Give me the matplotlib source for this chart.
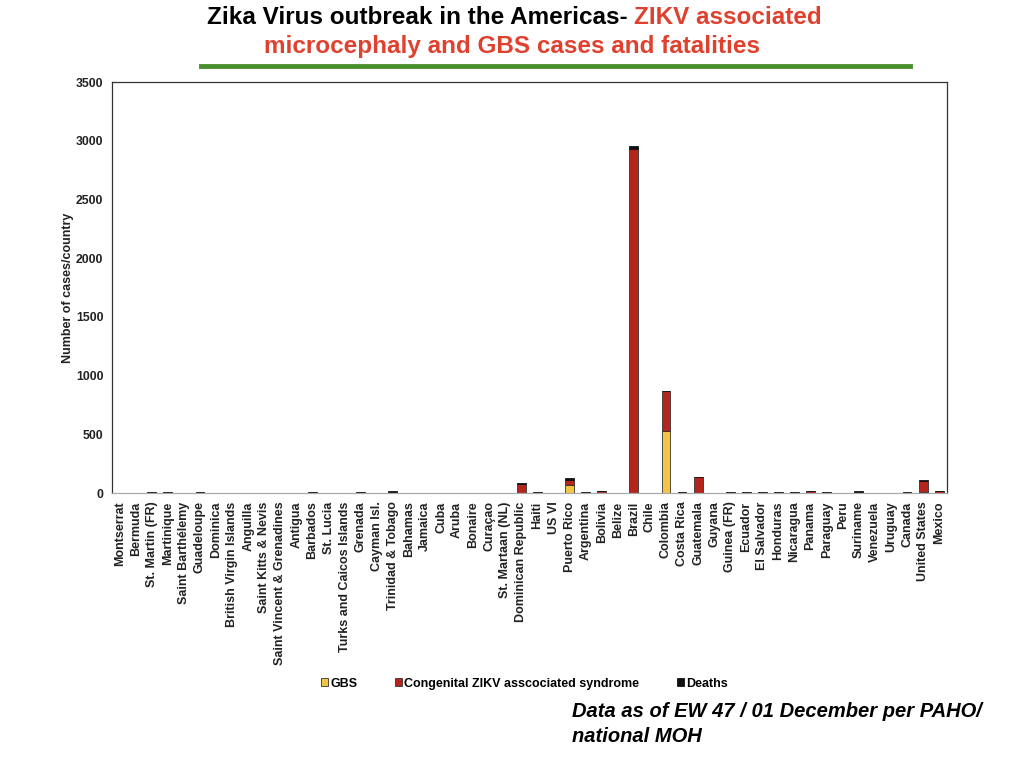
import matplotlib.pyplot as plt
import numpy as np

plt.rcParams['font.family'] = ['Liberation Sans', 'DejaVu Sans']

countries = ["Montserrat", "Bermuda", "St. Martin (FR)", "Martinique", "Saint Barthélemy",
             "Guadeloupe", "Dominica", "British Virgin Islands", "Anguilla", "Saint Kitts & Nevis",
             "Saint Vincent & Grenadines", "Antigua", "Barbados", "St. Lucia",
             "Turks and Caicos Islands", "Grenada", "Cayman Isl.", "Trinidad & Tobago", "Bahamas",
             "Jamaica", "Cuba", "Aruba", "Bonaire", "Curaçao", "St. Martaan (NL)",
             "Dominican Republic", "Haiti", "US VI", "Puerto Rico", "Argentina", "Bolivia",
             "Belize", "Brazil", "Chile", "Colombia", "Costa Rica", "Guatemala", "Guyana",
             "Guinea (FR)", "Ecuador", "El Salvador", "Honduras", "Nicaragua", "Panama",
             "Paraguay", "Peru", "Suriname", "Venezuela", "Uruguay", "Canada", "United States",
             "Mexico"]

gbs = [0, 0, 0, 0, 0, 0, 0, 0, 0, 0, 0, 0, 0, 0, 0, 0, 0, 0, 0, 0, 0, 0, 0, 0, 0,
       0, 0, 0, 68, 0, 0, 0, 0, 0, 530, 0, 0, 0, 0, 0, 0, 0, 0, 0, 0, 0, 0, 0, 0, 0, 6, 0]
congenital = [0, 0, 8, 8, 0, 8, 0, 0, 0, 0, 0, 0, 8, 0, 0, 8, 0, 12, 0, 0, 0, 0, 0, 0, 0,
              80, 8, 0, 45, 8, 14, 0, 2935, 0, 340, 8, 138, 0, 8, 8, 8, 8, 8, 14, 8, 0, 8, 0, 0, 8,
              95, 14]
deaths = [0, 0, 0, 0, 0, 0, 0, 0, 0, 0, 0, 0, 0, 0, 0, 0, 0, 2, 0, 0, 0, 0, 0, 0, 0,
          2, 0, 0, 12, 0, 2, 0, 22, 0, 3, 0, 2, 0, 0, 0, 0, 0, 0, 2, 0, 0, 6, 0, 0, 0, 10, 2]

x = np.arange(len(countries))
gbs = np.array(gbs)
congenital = np.array(congenital)
deaths = np.array(deaths)
txt = "#222222"

fig = plt.figure(figsize=(10.24, 7.68), dpi=100)
ax = fig.add_axes([0.109, 0.358, 0.816, 0.535])

w = 0.55
ax.bar(x, gbs, w, color="#f4c542", edgecolor="#333333", linewidth=0.6, label="GBS")
ax.bar(x, congenital, w, bottom=gbs, color="#b5251b", edgecolor="#333333", linewidth=0.6,
       label="Congenital ZIKV asscociated syndrome")
ax.bar(x, deaths, w, bottom=gbs + congenital, color="#111111", edgecolor="#111111",
       linewidth=0.6, label="Deaths")

ax.set_xlim(-0.5, len(countries) - 0.5)
ax.set_ylim(0, 3500)
ax.set_yticks(range(0, 3501, 500))
ax.set_xticks(x)
ax.set_xticklabels(countries, rotation=90, fontsize=9, fontweight="bold", color=txt)
for lab in ax.get_yticklabels():
    lab.set_fontsize(8.8)
    lab.set_fontweight("bold")
    lab.set_color(txt)
ax.tick_params(length=0, pad=6)
for s in ax.spines.values():
    s.set_color("#333333")
    s.set_linewidth(0.9)
ax.spines["bottom"].set_color("#aaaaaa")
ax.set_ylabel("Number of cases/country", fontsize=9, fontweight="bold", color=txt, labelpad=1)

fig.legend(loc="center", bbox_to_anchor=(0.512, 0.11), ncol=3, frameon=False,
           handlelength=0.6, handleheight=0.6, handletextpad=0.15,
           columnspacing=3.0, prop={"weight": "bold", "size": 9})

t1 = fig.text(0.202, 0.969, "Zika Virus outbreak in the Americas- ", ha="left", va="baseline",
              fontsize=17.5, fontweight="bold", color="black")
fig.canvas.draw()
bb = t1.get_window_extent().transformed(fig.transFigure.inverted())
fig.text(bb.x1, 0.969, "ZIKV associated", ha="left", va="baseline",
         fontsize=17.5, fontweight="bold", color="#e0412f")
fig.text(0.5, 0.931, "microcephaly and GBS cases and fatalities", ha="center", va="baseline",
         fontsize=17.5, fontweight="bold", color="#e0412f")
fig.add_artist(plt.Line2D([0.196, 0.889], [0.914, 0.914], color="#4a8f2e", linewidth=3.5))

fig.text(0.559, 0.057, "Data as of EW 47 / 01 December per PAHO/\nnational MOH", ha="left",
         va="center", fontsize=14.5, fontweight="bold", style="italic", linespacing=1.4)

fig.savefig("out.png", dpi=100)
